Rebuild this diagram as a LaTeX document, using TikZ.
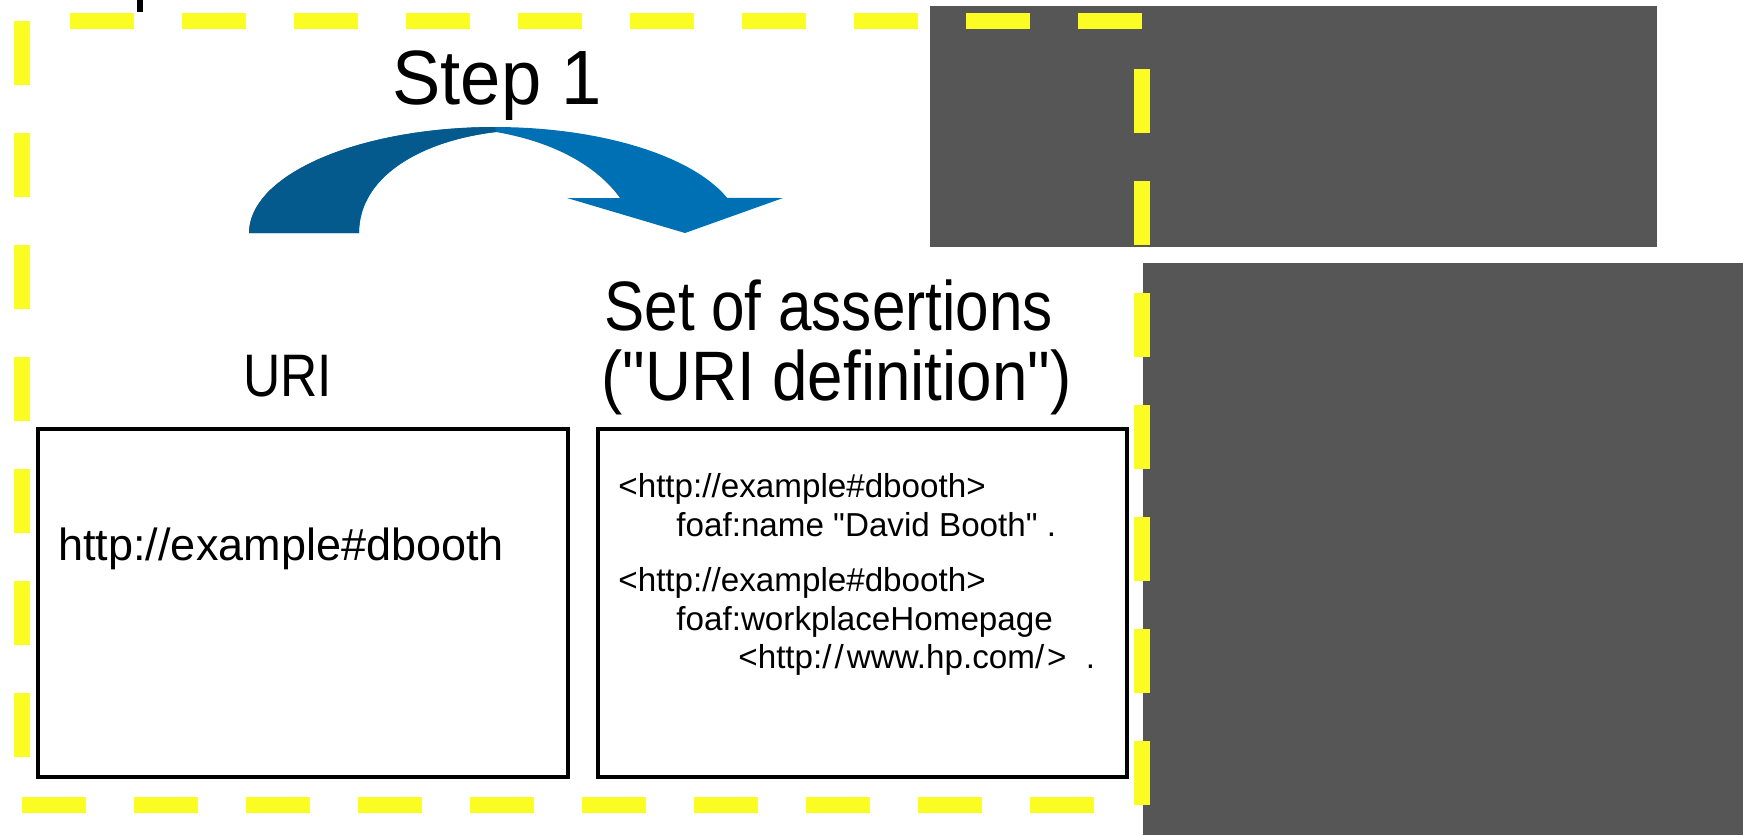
\documentclass[tikz,border=0pt]{standalone}
\usepackage{fontspec}
\setmainfont{Liberation Sans}[Ligatures=TeXOff]
\newfontfamily\headfont[FakeStretch=0.86]{Liberation Sans}
\newfontfamily\stepfont[FakeStretch=0.94]{Liberation Sans}
\newfontfamily\defnfont[FakeStretch=0.91]{Liberation Sans}
\usepackage{xcolor}
\usepackage{tikz}

\definecolor{dashyellow}{RGB}{250,252,35}
\definecolor{screengray}{RGB}{86,86,86}
\definecolor{arrowdark}{RGB}{4,90,141}
\definecolor{arrowlight}{RGB}{0,112,180}
\newcommand{\dq}{\symbol{34}}
\newcommand{\slashgap}{/\kern1.5pt}

\begin{document}
\begin{tikzpicture}[x=0.5pt, y=-0.5pt,
                        box/.style = {draw, line width=2.25pt, inner sep=0pt, minimum height=174pt},
                        txt/.style = {anchor=base west, inner sep=0pt},
                        small/.style = {txt, font=\fontsize{16.6}{16.6}\selectfont}]
                        \useasboundingbox (0,0) rectangle (1743,835);
                        \fill[white] (0,0) rectangle (1743,835);

                        % grey panels on the right
                        \fill[screengray] (930,6) rectangle (1657,247);
                        \fill[screengray] (1143,263) rectangle (1743,835);
                        \fill (137,0) rectangle (143,12);

                        \node (step) [txt, font={\stepfont\fontsize{38.5}{38.5}\selectfont}] at (392,104) {Step 1};
                        \node (uri) [txt, font={\headfont\fontsize{30}{30}\selectfont}] at (243,396) {URI};
                        \node (set) [txt, font={\headfont\fontsize{35}{35}\selectfont}] at (604,330) {Set of assertions};
                        \node (def) [txt, font={\defnfont\fontsize{35}{35}\selectfont}] at (601,400) {(\dq URI definition\dq)};

                        \node (uribox) [box, minimum width=265pt] at (303,603) {};
                        \node (defbox) [box, minimum width=264.5pt] at (862.5,603) {};

                        \node (uritext) [txt, font=\fontsize{22.5}{22.5}\selectfont] at (58,560) {http://example\#dbooth};
                        \node (subj1) [small] at (618,497) {<http://example\#dbooth>};
                        \node (name) [small] at (676,536) {foaf:name \dq David Booth\dq\ .};
                        \node (subj2) [small] at (618,591) {<http://example\#dbooth>};
                        \node (work) [small] at (676,630) {foaf:workplaceHomepage};
                        \node (hp) [small] at (738,668) {<http:\slashgap\slashgap www.hp.com\slashgap>\hspace{5pt} .};

                        % curved block arrow
                        \def\arrowpath{plot[domain=180:340.7, samples=60] ({495+246*cos(\x)}, {233+106*sin(\x)})
                            -- (783,198) -- (685,233) -- (567,198) -- (620,198)
                            .. controls (600,170) and (560,143) .. (496,132)
                            .. controls (420,141) and (359,177) .. (359,233) -- cycle}
                        \fill[arrowlight] \arrowpath;
                        \begin{scope}
                            \clip (0,0) -- (470,0) -- (496,132) -- (496,300) -- (0,300) -- cycle;
                            \fill[arrowdark] \arrowpath;
                        \end{scope}

                        % yellow dashed frame
                        \draw[dashyellow, line width=8pt, dash pattern=on 32pt off 24pt, dash phase=32pt]
                            (22,805) -- (22,21) -- (1142,21) -- (1142,805) -- cycle;
                    \end{tikzpicture}
\end{document}
